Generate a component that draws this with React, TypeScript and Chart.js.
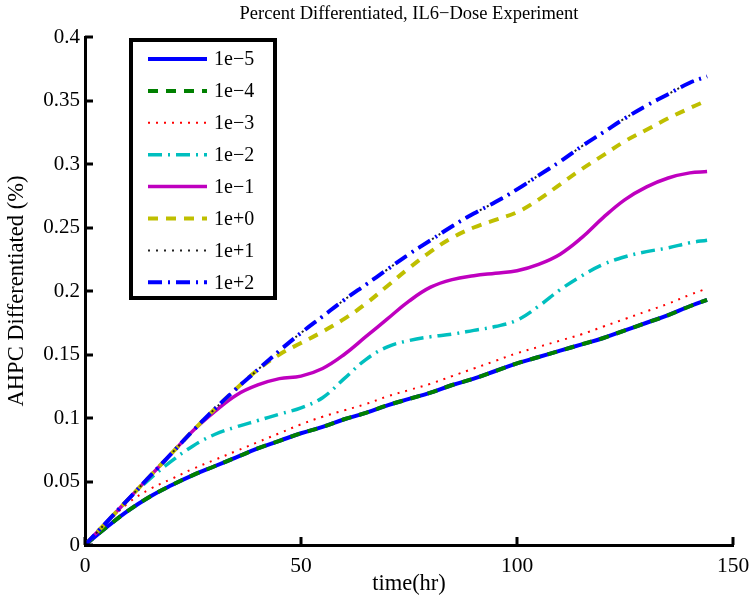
import React, { useEffect, useRef } from "react";
import { Chart, registerables } from "chart.js";

Chart.register(...registerables);

const TITLE = "Percent Differentiated, IL6\u2212Dose Experiment";
const X_LABEL = "time(hr)";
const Y_LABEL = "AHPC Differentiated (%)";

const xHours = [0, 5, 10, 15, 20, 25, 30, 35, 40, 45, 50, 55, 60, 65, 70, 75, 80, 85, 90, 95, 100, 105, 110, 115, 120, 125, 130, 135, 140, 144];
const xTicks = [0, 50, 100, 150];
const yTicks = [0, 0.05, 0.1, 0.15, 0.2, 0.25, 0.3, 0.35, 0.4];

const seriesLabels = ["1e\u22125", "1e\u22124", "1e\u22123", "1e\u22122", "1e\u22121", "1e+0", "1e+1", "1e+2"];

const dose1em5 = [0, 0.014, 0.027, 0.038, 0.047, 0.055, 0.062, 0.069, 0.076, 0.082, 0.088, 0.093, 0.099, 0.104, 0.110, 0.115, 0.120, 0.126, 0.131, 0.137, 0.143, 0.148, 0.153, 0.158, 0.163, 0.169, 0.175, 0.181, 0.188, 0.193];
const dose1em4 = [0, 0.014, 0.027, 0.038, 0.047, 0.055, 0.062, 0.069, 0.076, 0.082, 0.088, 0.093, 0.099, 0.104, 0.110, 0.115, 0.120, 0.126, 0.131, 0.137, 0.143, 0.148, 0.153, 0.158, 0.163, 0.169, 0.175, 0.181, 0.188, 0.193];
const dose1em3 = [0, 0.017, 0.033, 0.044, 0.052, 0.060, 0.067, 0.074, 0.081, 0.088, 0.095, 0.101, 0.106, 0.111, 0.117, 0.122, 0.127, 0.133, 0.139, 0.145, 0.151, 0.156, 0.161, 0.166, 0.172, 0.178, 0.184, 0.190, 0.197, 0.202];
const dose1em2 = [0, 0.018, 0.036, 0.052, 0.066, 0.078, 0.087, 0.093, 0.098, 0.103, 0.108, 0.116, 0.131, 0.146, 0.156, 0.161, 0.164, 0.166, 0.169, 0.172, 0.177, 0.188, 0.201, 0.212, 0.221, 0.227, 0.231, 0.234, 0.238, 0.240];
const dose1em1 = [0, 0.018, 0.036, 0.054, 0.072, 0.090, 0.105, 0.118, 0.126, 0.131, 0.133, 0.139, 0.150, 0.164, 0.178, 0.192, 0.203, 0.209, 0.212, 0.214, 0.216, 0.221, 0.229, 0.242, 0.258, 0.272, 0.282, 0.289, 0.293, 0.294];
const dose1ep0 = [0, 0.018, 0.036, 0.054, 0.072, 0.090, 0.107, 0.123, 0.138, 0.150, 0.159, 0.168, 0.178, 0.190, 0.204, 0.218, 0.231, 0.242, 0.250, 0.256, 0.262, 0.272, 0.284, 0.296, 0.307, 0.318, 0.327, 0.336, 0.344, 0.350];
const dose1ep1 = [0, 0.018, 0.036, 0.054, 0.072, 0.090, 0.107, 0.123, 0.138, 0.153, 0.167, 0.180, 0.193, 0.205, 0.217, 0.229, 0.240, 0.251, 0.261, 0.270, 0.280, 0.291, 0.302, 0.314, 0.325, 0.336, 0.346, 0.355, 0.364, 0.369];
const dose1ep2 = [0, 0.018, 0.036, 0.054, 0.072, 0.090, 0.107, 0.123, 0.138, 0.153, 0.167, 0.180, 0.193, 0.205, 0.217, 0.229, 0.240, 0.251, 0.261, 0.270, 0.280, 0.291, 0.302, 0.314, 0.325, 0.336, 0.346, 0.355, 0.364, 0.369];

const seriesValues = [dose1em5, dose1em4, dose1em3, dose1em2, dose1em1, dose1ep0, dose1ep1, dose1ep2];

const seriesStyles = [
  { color: "#0000FF", width: 4, dash: [] as number[] },
  { color: "#008000", width: 4, dash: [10, 8] },
  { color: "#FF0000", width: 2, dash: [2, 6] },
  { color: "#00BFBF", width: 3.5, dash: [14, 6, 2, 6] },
  { color: "#BF00BF", width: 3.5, dash: [] as number[] },
  { color: "#BFBF00", width: 4, dash: [10, 8] },
  { color: "#222222", width: 2, dash: [2, 6] },
  { color: "#0000FF", width: 4, dash: [14, 6, 2, 6] },
];

const FONT = "'Liberation Serif', 'Times New Roman', serif";

const decorPlugin = {
  id: "decor",
  afterDraw(chart: any) {
    const { ctx, chartArea, scales } = chart;
    ctx.save();
    // inward tick marks
    ctx.strokeStyle = "#000";
    ctx.lineWidth = 3;
    const xs = scales.x;
    xs.ticks.forEach((_t: any, i: number) => {
      const px = Math.round(xs.getPixelForTick(i));
      ctx.beginPath();
      ctx.moveTo(px, chartArea.bottom);
      ctx.lineTo(px, chartArea.bottom - 8);
      ctx.stroke();
    });
    const ys = scales.y;
    ys.ticks.forEach((_t: any, i: number) => {
      const py = Math.round(ys.getPixelForTick(i));
      ctx.beginPath();
      ctx.moveTo(chartArea.left, py);
      ctx.lineTo(chartArea.left + 8, py);
      ctx.stroke();
    });

    // title
    ctx.fillStyle = "#000";
    ctx.font = `18.5px ${FONT}`;
    ctx.textAlign = "center";
    ctx.textBaseline = "middle";
    ctx.fillText(TITLE, (chartArea.left + chartArea.right) / 2, 14);

    // legend
    const bx = 131, by = 40, bw = 144, bh = 258;
    ctx.fillStyle = "#fff";
    ctx.fillRect(bx, by, bw, bh);
    ctx.lineWidth = 4;
    ctx.strokeStyle = "#000";
    ctx.setLineDash([]);
    ctx.strokeRect(bx, by, bw, bh);
    ctx.font = `20px ${FONT}`;
    ctx.textAlign = "left";
    chart.data.datasets.forEach((ds: any, i: number) => {
      const y = 59 + i * 31.9;
      ctx.save();
      ctx.strokeStyle = ds.borderColor;
      ctx.lineWidth = ds.borderWidth;
      ctx.setLineDash(ds.borderDash || []);
      ctx.beginPath();
      ctx.moveTo(148, y);
      ctx.lineTo(207, y);
      ctx.stroke();
      ctx.restore();
      ctx.fillStyle = "#000";
      ctx.textBaseline = "middle";
      ctx.fillText(ds.label, 214, y + 1);
    });
    ctx.restore();
  },
};

export default function App() {
  const ref = useRef<HTMLCanvasElement | null>(null);

  useEffect(() => {
    document.body.style.margin = "0";
    const canvas = ref.current;
    if (!canvas) return;
    const datasets = seriesLabels.map((label, i) => ({
      label,
      data: xHours.map((x, j) => ({ x, y: seriesValues[i][j] })),
      borderColor: seriesStyles[i].color,
      backgroundColor: seriesStyles[i].color,
      borderWidth: seriesStyles[i].width,
      borderDash: seriesStyles[i].dash,
      pointRadius: 0,
      fill: false,
      tension: 0.4,
      order: seriesLabels.length - i,
    }));

    const chart = new Chart(canvas, {
      type: "line",
      data: { datasets },
      options: {
        animation: false,
        responsive: false,
        maintainAspectRatio: false,
        layout: { padding: { top: 37, right: 17, left: 0, bottom: 0 } },
        plugins: {
          legend: { display: false },
          tooltip: { enabled: false },
          title: { display: false },
        },
        scales: {
          x: {
            type: "linear",
            min: 0,
            max: 150,
            afterBuildTicks: (s: any) => {
              s.ticks = xTicks.map((v) => ({ value: v }));
            },
            afterFit: (s: any) => {
              s.height = 58;
              s.paddingLeft = 0;
              s.paddingRight = 0;
            },
            grid: { display: false, drawTicks: false },
            border: { display: true, width: 3, color: "#000" },
            ticks: {
              color: "#000",
              font: { family: FONT, size: 21.5 },
              padding: 8,
              maxRotation: 0,
              callback: (v: any) => String(v),
            },
            title: {
              display: true,
              text: X_LABEL,
              color: "#000",
              font: { family: FONT, size: 22.5 },
              padding: { top: 0, bottom: 5 },
            },
          },
          y: {
            type: "linear",
            min: 0,
            max: 0.4,
            afterBuildTicks: (s: any) => {
              s.ticks = yTicks.map((v) => ({ value: v }));
            },
            afterFit: (s: any) => {
              s.width = 85;
              s.paddingTop = 0;
              s.paddingBottom = 0;
            },
            grid: { display: false, drawTicks: false },
            border: { display: true, width: 3, color: "#000" },
            ticks: {
              color: "#000",
              font: { family: FONT, size: 21 },
              padding: 5,
              callback: (v: any) => String(+Number(v).toFixed(2)),
            },
            title: {
              display: true,
              text: Y_LABEL,
              color: "#000",
              font: { family: FONT, size: 22.5 },
              padding: { top: 4, bottom: 0 },
            },
          },
        },
      },
      plugins: [decorPlugin],
    });
    return () => chart.destroy();
  }, []);

  return (
    <div style={{ position: "absolute", left: 0, top: 0, width: 750, height: 603, background: "#fff" }}>
      <canvas ref={ref} width={750} height={603} />
    </div>
  );
}
